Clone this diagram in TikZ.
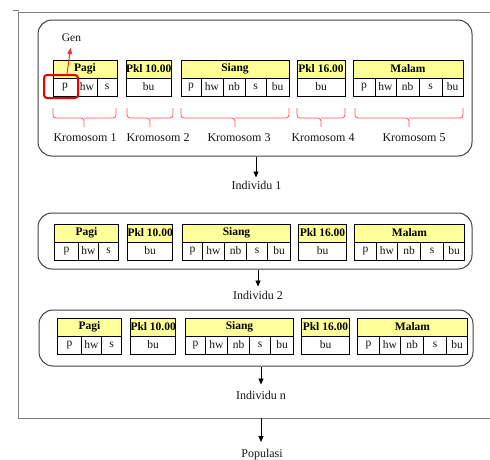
\documentclass[tikz,border=0pt]{standalone}
\usepackage{fontspec}
\setmainfont{Liberation Serif}
\usetikzlibrary{arrows.meta,calc}
\definecolor{hdrfill}{RGB}{255,255,153}
\definecolor{bracered}{RGB}{255,80,80}
\definecolor{genred}{RGB}{235,0,0}
\definecolor{outergray}{RGB}{125,125,125}
\definecolor{txt}{RGB}{20,20,20}

\newcommand\mkchrom[6]{%
  \node[hdr, anchor=north west, minimum width=#4pt] (#1h) at (#2,#3) {#5};
  \foreach \w/\l [count=\i] in {#6}{%
    \ifnum\i=1
      \node[cell, anchor=north west, minimum width=\w pt] (#1c1) at (#1h.south west) {\l};
    \else
      \pgfmathtruncatemacro\j{\i-1}%
      \node[cell, anchor=north west, minimum width=\w pt] (#1c\i) at (#1c\j.north east) {\l};
    \fi}}
\newcommand\mkrow[3]{%
  \mkchrom{#1a}{53+#2}{#3}{64}{Pagi}{24/p,20/hw,20/s}
  \mkchrom{#1b}{126+#2}{#3}{45}{Pkl 10.00}{45/bu}
  \mkchrom{#1c}{181+#2}{#3}{108}{Siang}{20/p,22/hw,22/nb,21/s,23/bu}
  \mkchrom{#1d}{297+#2}{#3}{48}{Pkl 16.00}{48/bu}
  \mkchrom{#1e}{353+#2}{#3}{110}{Malam}{22/p,21/hw,23/nb,23/s,21/bu}}
\newcommand\mkbrace[3]{%
  \draw[brc] (#1,108) -- (#1,118) -- (#3,118) -- (#3,127);
  \draw[brc] (#3,118) -- (#2,118) -- (#2,108);}

\begin{document}
\begin{tikzpicture}[x=1pt,y=-1pt,
  hdr/.style={draw=black, fill=hdrfill, font=\bfseries\fontsize{11.5}{12}\selectfont,
    minimum height=18pt, inner sep=0pt, outer sep=0pt, line width=0.9pt},
  cell/.style={draw=black, fill=white, text=txt, font=\fontsize{11.5}{12}\selectfont,
    minimum height=18pt, inner sep=0pt, outer sep=0pt, line width=0.9pt},
  ibox/.style={draw=black!75, line width=1pt, rounded corners=14pt, inner sep=0pt},
  brc/.style={draw=bracered, line width=0.8pt, rounded corners=3pt},
  klbl/.style={text=txt, font=\fontsize{12}{14}\selectfont, inner sep=0pt},
  lbl/.style={text=txt, font=\fontsize{12}{14}\selectfont, inner sep=0pt, anchor=north},
  arr/.style={-{Triangle[length=6pt,width=5pt]}, line width=0.8pt, draw=black},
  outer/.style={draw=outergray, line width=1pt}]
\useasboundingbox (0,0) rectangle (490,459);
\clip (0,0) rectangle (490,459);

% outer frame
\draw[outergray, line width=0.6pt] (13,10) -- (19,10);
\draw[outer] (490,12) -- (18,12) -- (18,418) -- (490,418);

% individual boxes
\node[ibox, minimum width=434pt, minimum height=136pt] (b1) at (255,88) {};
\node[ibox, minimum width=434pt, minimum height=56pt] (b2) at (255,241) {};
\node[ibox, minimum width=434pt, minimum height=56pt] (b3) at (256,338) {};

% chromosomes
\mkrow{r1}{0}{60}
\mkrow{r2}{1.5}{224}
\mkrow{r3}{4.5}{318}

% braces
\mkbrace{53}{116}{84}
\mkbrace{127}{173}{150}
\mkbrace{181}{289}{235}
\mkbrace{297}{345}{321}
\mkbrace{355}{463}{409}

\node[klbl] (k1) at (85,138) {Kromosom 1};
\node[klbl] (k2) at (158,138) {Kromosom 2};
\node[klbl] (k3) at (239,138) {Kromosom 3};
\node[klbl] (k4) at (323,138) {Kromosom 4};
\node[klbl] (k5) at (414,138) {Kromosom 5};

% gene highlight
\node[draw=genred, line width=2pt, rounded corners=3pt, minimum width=34pt,
  minimum height=23pt, inner sep=0pt] (gbox) at (61,86.5) {};
\node[text=txt, font=\fontsize{11.5}{12}\selectfont, inner sep=0pt] (gen) at (71.5,38) {Gen};
\coordinate (gstart) at ($(gbox.north)+(6,0)$);
\coordinate (gtip) at (70.5,48);
\draw[-{Triangle[length=6pt,width=5pt]}, genred!80, line width=1pt] (gstart) -- (gtip);

% individuals and arrows
\node[lbl] (ind1) at (256.5,181) {Individu 1};
\node[lbl] (ind2) at (258,291) {Individu 2};
\node[lbl] (indn) at (261,391) {Individu n};
\node[lbl] (pop) at (262,449) {Populasi};
\coordinate (ob) at (261,418);
\draw[arr] ($(b1.south)+(1,0)$) -- ++(0,21);
\draw[arr] ($(b2.south)+(3,0)$) -- ++(0,17);
\draw[arr] ($(b3.south)+(5,0)$) -- ++(0,18);
\draw[arr] (ob) -- ++(0,24);
\end{tikzpicture}
\end{document}
